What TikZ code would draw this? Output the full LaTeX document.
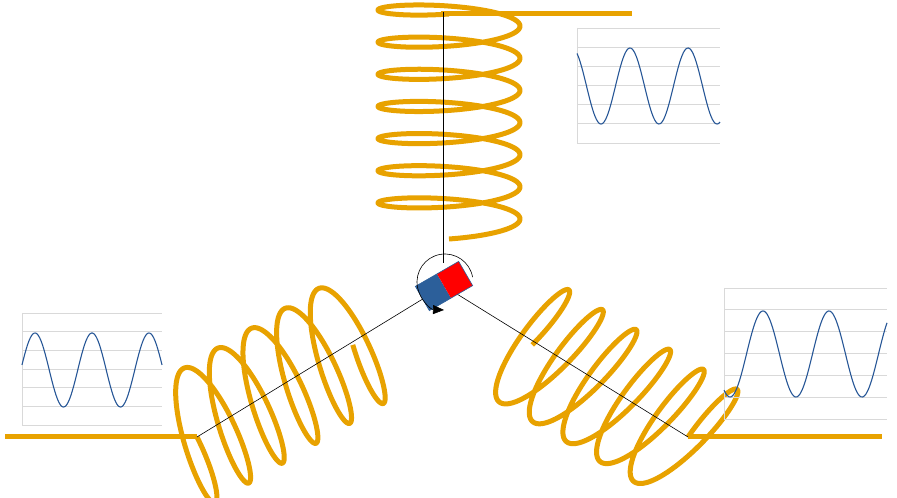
\documentclass[tikz,border=0pt]{standalone}
\usetikzlibrary{arrows.meta}
\definecolor{wire}{RGB}{232,162,0}
\definecolor{sig}{RGB}{38,86,150}
\definecolor{grid}{RGB}{217,217,217}
\definecolor{magblue}{RGB}{44,95,154}
\begin{document}
\begin{tikzpicture}[x=1pt,y=1pt,
  wirestyle/.style={wire,line width=5pt},
  coilstyle/.style={wire,line width=5pt,line join=round},
  gridline/.style={grid,line width=0.8pt},
  sigline/.style={sig,line width=1.1pt},
  axisline/.style={black,line width=0.6pt}]
\useasboundingbox (0,0) rectangle (897,498);
\coordinate (mc) at (444,212);
\coordinate (tA) at (443,486);
\coordinate (lA) at (197,61);
\coordinate (rA) at (688,61);
% wires
\draw[wirestyle] (5,61) -- (lA);
\draw[wirestyle] (rA) -- (882,61);
\draw[wirestyle] (441,484) -- (632,484);
% top coil
\begin{scope}[shift={(449,484)},rotate=-90]
\draw[coilstyle] plot[domain=90:2610,samples=700,smooth] ({(\x-90)/2520*225+12*(sin(\x)-1)},{71*cos(\x)});
\end{scope}
% left coil
\begin{scope}[shift={(lA)},rotate=30.6]
\draw[coilstyle] plot[domain=90:2070,samples=600,smooth] ({(\x-90)/1980*215+17*(sin(\x)-1)+0.16*66*cos(\x)},{66*cos(\x)});
\end{scope}
% right coil
\begin{scope}[shift={(rA)},rotate=-30.6,xscale=-1]
\draw[coilstyle] plot[domain=90:2070,samples=600,smooth] ({(\x-90)/1980*215+17*(sin(\x)-1)+0.16*66*cos(\x)},{-66*cos(\x)});
\end{scope}
% axis lines
\draw[axisline] (tA) -- (443,235);
\draw[axisline] (mc) -- (lA);
\draw[axisline] (mc) -- (rA);
% magnet
\begin{scope}[shift={(mc)},rotate=30]
\fill[magblue] (-25,-14) rectangle (0,14);
\fill[red] (0,-14) rectangle (25,14);
\draw[magblue,line width=0.6pt] (-25,-14) rectangle (25,14);
\end{scope}
\draw[black,line width=0.6pt,-{Triangle[length=11pt,width=9pt]}] (445,216) ++(10:28) arc[start angle=10,end angle=268,radius=28];
% top chart
\foreach \y in {470,450.8,431.7,412.5,393.3,374.2} \draw[gridline] (577,\y) -- (720,\y);
\draw[gridline] (577,470) -- (577,355) -- (720,355);
\draw[sigline] plot[domain=577:720,samples=150,smooth] (\x,{412-38*cos((\x-601)/58*360)});
% left chart
\foreach \y in {185,166.3,147.7,129,110.3,91.7} \draw[gridline] (22,\y) -- (162,\y);
\draw[gridline] (22,185) -- (22,73) -- (162,73);
\draw[sigline] plot[domain=22:162,samples=150,smooth] (\x,{128+37*cos((\x-35)/57*360)});
% right chart
\foreach \y in {210,188.2,166.3,144.5,122.7,100.8} \draw[gridline] (724,\y) -- (887,\y);
\draw[gridline] (724,210) -- (724,79) -- (887,79);
\draw[sigline] plot[domain=724:887,samples=160,smooth] (\x,{144-43*cos((\x-730)/66*360)});
\end{tikzpicture}
\end{document}
